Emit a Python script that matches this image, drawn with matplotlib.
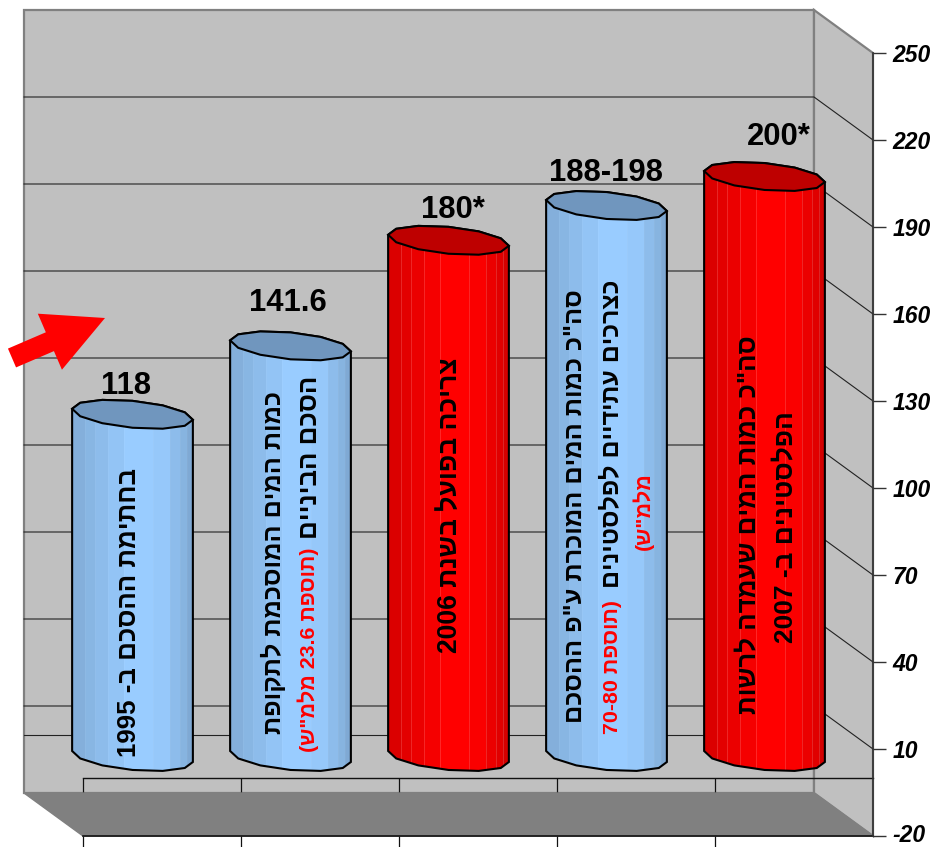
import re
import numpy as np
import matplotlib
matplotlib.use("Agg")
import matplotlib.pyplot as plt
from matplotlib.patches import Polygon, FancyArrow
from matplotlib.transforms import Affine2D, ScaledTranslation

plt.rcParams['font.family'] = ['Liberation Sans', 'DejaVu Sans']

# data
values = [118, 141.6, 178, 190, 200]
value_labels = ["118", "141.6", "180*", "188-198", "200*"]
bar_kinds = ["blue", "blue", "red", "blue", "red"]
y_ticks = [-20, 10, 40, 70, 100, 130, 160, 190, 220, 250]
texts_black = [
    ["בחתימת ההסכם ב- 1995"],
    ["כמות המים המוסכמת לתקופת", "הסכם הביניים"],
    ["צריכה בפועל בשנת 2006"],
    ['סה"כ כמות המים המוכרת ע"פ ההסכם', "כצרכים עתידיים לפלסטינים"],
    ['סה"כ כמות המים שעמדה לרשות', "הפלסטינים ב- 2007"],
]
texts_red = [
    [],
    ['(תוספת 23.6 מלמ"ש)'],
    [],
    ["(תוספת 70-80", 'מלמ"ש)'],
    [],
]

# layout, in reference pixels
W, H = 934, 847
FRONT_LEFT, UNIT_X = 83, 158.0
FRONT_BOTTOM, UNIT_Y = 836, 87.0 / 30
DEPTH_X, DEPTH_Y = 59, 43
BAR_A, BAR_S, BAR_B, BAR_T = 54.0, 27.0, 14.5, 1.1
black_pos = [[(129, 612)], [(273, 562), (310, 457)], [(450, 505)],
             [(575, 506), (611, 434)], [(748, 525), (785, 527)]]
black_size = [[18.6], [18.2, 18.6], [19.1], [18.3, 18.0], [18.6, 19.0]]
red_pos = [[], [(308, 650)], [], [(612, 667), (643, 511)], []]
label_pos = [(126, 386), (288, 303), (453, 210), (606, 173), (779, 137)]

colors = {"blue": ((153, 204, 255), "#7096BE", 0.05), "red": ((255, 0, 0), "#BE0000", 0.18)}
band_edges = np.array([0, .11, .19, .30, .43, .67, .81, .89, .95, 1])
band_shades = [.86, .89, .92, .96, 1, .98, .92, .88, .83]


def proj(x, v, d):
    # oblique projection, d=0 is the front plane and d=1 the back wall
    return x - d * DEPTH_X / UNIT_X, v + d * DEPTH_Y / UNIT_Y


def vis(s):
    # matplotlib has no bidi, so put the hebrew into visual order
    parts = re.findall(r"\d+(?:[.\-]\d+)*|.", s)[::-1]
    swap = {"(": ")", ")": "("}
    return "".join(swap.get(p, p) for p in parts)


fig = plt.figure(figsize=(W / 100, H / 100), dpi=100)
ax = fig.add_axes([0, 0, 1, 1])
ax.patch.set_visible(False)
pix = Affine2D().scale(1, -1).translate(0, H)

# walls and floor
back = [proj(0, -20, 1), proj(5, -20, 1), proj(5, 250, 1), proj(0, 250, 1)]
side = [proj(5, -20, 1), proj(5, -20, 0), proj(5, 250, 0), proj(5, 250, 1)]
floor = [proj(0, -20, 1), proj(5, -20, 1), proj(5, -20, 0), proj(0, -20, 0)]
ax.add_patch(Polygon(back, fc="#C0C0C0", ec="#808080", lw=1.6, zorder=0.2))
ax.add_patch(Polygon(side, fc="#C0C0C0", ec="#808080", lw=1.6, zorder=0.2))
ax.add_patch(Polygon(floor, fc="#808080", ec="#808080", lw=1, zorder=3))

# grid
for v in y_ticks[1:-1]:
    pts = [proj(0, v, 1), proj(5, v, 1), proj(5, v, 0)]
    ax.plot(*zip(*pts), color="#222222", lw=0.8, zorder=1)
ax.plot(*zip(proj(0, 0, 1), proj(5, 0, 1)), color="#222222", lw=0.8, zorder=1)
ax.plot(*zip(proj(0, -20, 0), proj(5, -20, 0)), color="#111111", lw=1.2, zorder=3.5)

# cylinders
N = 12
theta0 = np.arctan2(-BAR_S, BAR_A)
theta = theta0 + np.arange(N) * 2 * np.pi / N
ex = (BAR_A * np.cos(theta) - BAR_S * np.sin(theta)) / UNIT_X
ey = (BAR_B * np.sin(theta) + BAR_T * np.cos(theta)) / UNIT_Y
half = N // 2
for i, (val, kind) in enumerate(zip(values, bar_kinds)):
    cx, base = proj(i + 0.5, 0, 0.5)
    _, top = proj(i + 0.5, val, 0.5)
    base_rgb, top_col, seam = colors[kind]
    # near side of the base: from the left extreme round to the right extreme
    low_x = np.r_[cx + ex[half:], cx + ex[0]]
    low_y = np.r_[base + ey[half:], base + ey[0]]
    body_pts = np.r_[np.c_[low_x, low_y],
                     np.c_[cx + ex[:half + 1], top + ey[:half + 1]]]
    body = Polygon(body_pts, fc="none", ec="black", lw=1.5, zorder=4.2)
    ax.add_patch(body)
    width = ex.max()
    xe = cx - width + 2 * width * band_edges
    ye = [base - 30, top + 30]
    rgb = np.array(band_shades)[None, :, None] * np.array(base_rgb)[None, None, :] / 255
    mesh = ax.pcolormesh(xe, ye, rgb, shading="flat", zorder=4, linewidth=0)
    mesh.set_clip_path(body)
    seams = ax.vlines(xe[1:-1], base - 30, top + 30, colors="white", alpha=seam, lw=0.6, zorder=4.1)
    seams.set_clip_path(body)
    ax.add_patch(Polygon(np.c_[cx + ex, top + ey], fc=top_col, ec="black", lw=1.5, zorder=4.3))

    ax.text(*label_pos[i], value_labels[i], transform=pix, ha="center", va="center",
            fontsize=22.3, fontweight="bold", color="black", zorder=6)
    for s, p, fs in zip(texts_black[i], black_pos[i], black_size[i]):
        ax.text(*p, vis(s), transform=pix, rotation=90, ha="center", va="center",
                fontsize=fs, fontweight="bold", color="black", zorder=6)
    for s, p in zip(texts_red[i], red_pos[i]):
        ax.text(*p, vis(s), transform=pix, rotation=90, ha="center", va="center",
                fontsize=15.4, fontweight="bold", color="#FF0000", zorder=6)

# arrow
ax.add_patch(FancyArrow(12, 358, 93, -40, width=20.5, head_width=61, head_length=60,
                        length_includes_head=True, transform=pix, fc="#FF0000",
                        ec="none", zorder=6))

# axes
ax.set_xlim(-FRONT_LEFT / UNIT_X, (W - FRONT_LEFT) / UNIT_X)
ax.set_ylim(-20 + (FRONT_BOTTOM - H) / UNIT_Y, -20 + FRONT_BOTTOM / UNIT_Y)
ax.set_axisbelow(True)
for name in ["top", "left"]:
    ax.spines[name].set_visible(False)
ax.spines["right"].set_position(("data", 5))
ax.spines["right"].set_bounds(-20, 250)
ax.spines["right"].set_color("#333333")
ax.spines["right"].set_linewidth(1.2)
ax.spines["right"].set_zorder(3.5)
ax.spines["bottom"].set_position(("data", 0))
ax.spines["bottom"].set_bounds(0, 5)
ax.spines["bottom"].set_color("#111111")
ax.spines["bottom"].set_linewidth(1.0)
ax.yaxis.tick_right()
ax.set_yticks(y_ticks)
ax.set_yticklabels([str(t) for t in y_ticks], fontsize=16.5, fontweight="bold", fontstyle="italic",
                   va="center_baseline")
ax.tick_params(axis="y", length=9.4, width=1, color="#333333", pad=4.5)
# the lowest label sits right on the bottom edge, nudge it inside
low_label = ax.get_yticklabels()[0]
low_label.set_transform(low_label.get_transform() + ScaledTranslation(0, 2 / 72, fig.dpi_scale_trans))
ax.set_xticks(range(5))
ax.set_xticklabels([])
ax.tick_params(axis="x", length=51, width=0.9, color="#111111")

fig.savefig("out.png", dpi=100)
